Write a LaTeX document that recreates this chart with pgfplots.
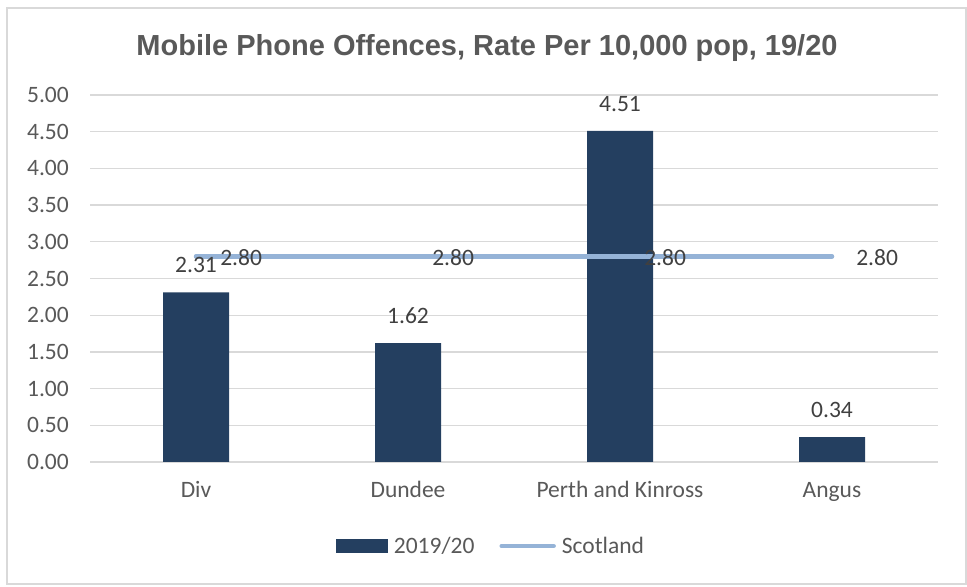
\documentclass[border=0pt]{standalone}
\usepackage{pgfplots}
\pgfplotsset{compat=1.18}
\usepackage{fontspec}
\setmainfont{Carlito}
\newfontfamily\titlefont{Liberation Sans}
\definecolor{barc}{HTML}{243F60}
\definecolor{linec}{HTML}{95B3D7}
\definecolor{gridc}{HTML}{D9D9D9}
\definecolor{txt}{HTML}{595959}
\definecolor{lbl}{HTML}{404040}
\newcommand{\lf}{\fontsize{23.5bp}{28bp}\selectfont}
\begin{document}
\begin{tikzpicture}
\useasboundingbox (0,0) rectangle (967bp,587bp);
\draw[gridc, line width=1.5bp] (7bp,3bp) rectangle (966bp,579bp);
\node[anchor=base, text=txt, inner sep=0pt, font=\titlefont\bfseries\fontsize{29bp}{34bp}\selectfont] at (487bp,531bp) {Mobile Phone Offences, Rate Per 10,000 pop, 19/20};
\begin{axis}[
  at={(90bp,125bp)}, anchor=south west, scale only axis,
  width=848bp, height=367bp,
  xmin=-0.5, xmax=3.5, ymin=0, ymax=5,
  clip=false,
  xtick={0,1,2,3}, xticklabels={Div,Dundee,Perth and Kinross,Angus},
  ytick={0,0.5,1,1.5,2,2.5,3,3.5,4,4.5,5},
  ymajorgrids, grid style={gridc, line width=1.3bp},
  major tick length=0pt,
  axis line style={draw=none},
  tick label style={font=\lf, text=txt, inner sep=0pt},
  yticklabel style={anchor=east, xshift=-21bp},
  xticklabel style={anchor=base, yshift=-36bp},
  /pgf/number format/.cd, fixed, fixed zerofill, precision=2, assume math mode=true, /pgfplots/.cd,
  legend columns=-1,
  legend style={at={(0.4717,-0.2289)}, anchor=center, draw=none, fill=none,
    font=\lf, text=txt, inner sep=0pt,
    nodes={inner sep=0pt},
    /tikz/every odd column/.append style={column sep=6bp},
    /tikz/every even column/.append style={column sep=25bp}},
]
\addplot[ybar, bar width=66bp, fill=barc, draw=none,
  nodes near coords,
  nodes near coords style={font=\lf, text=lbl, anchor=base, yshift=19.5bp, inner sep=0pt},
  legend image code/.code={\fill[barc] (0bp,-7bp) rectangle (52bp,7bp);}]
  coordinates {(0,2.31) (1,1.62) (2,4.51) (3,0.34)};
\addlegendentry{2019/20}
\addplot[linec, line width=4.5bp, line cap=round,
  nodes near coords,
  nodes near coords style={font=\lf, text=lbl, anchor=base west, xshift=22bp, yshift=-9bp, inner sep=0pt},
  legend image code/.code={\draw[linec, line width=4.5bp, line cap=round] (2bp,0) -- (54bp,0);}]
  coordinates {(0,2.8) (1,2.8) (2,2.8) (3,2.8)};
\addlegendentry{Scotland}
\end{axis}
\end{tikzpicture}
\end{document}
